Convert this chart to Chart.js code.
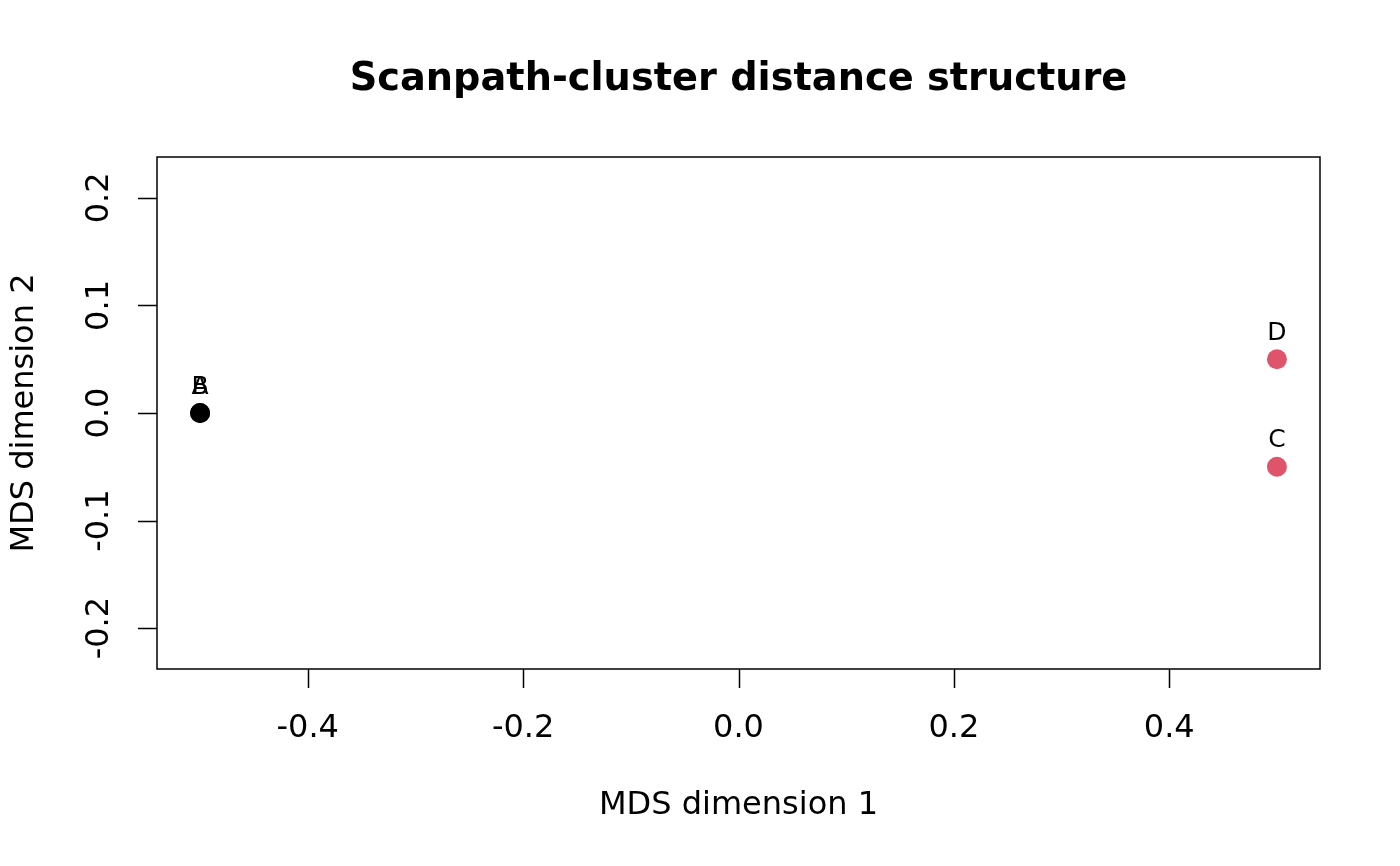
<!DOCTYPE html>
<html>
<head>
<meta charset="utf-8">
<script src="https://cdn.jsdelivr.net/npm/chart.js@4"></script>
<style>
html,body{margin:0;padding:0;background:#fff;}
#wrap{width:1400px;height:866px;}
</style>
</head>
<body>
<div id="wrap"><canvas id="c" width="1400" height="866"></canvas></div>
<script>
const chartTitle = "Scanpath-cluster distance structure";
const xTitle = "MDS dimension 1";
const yTitle = "MDS dimension 2";
const pointLabels = ["A", "B", "C", "D"];
const dim1 = [-0.5, -0.5, 0.5, 0.5];
const dim2 = [0.0, 0.0, -0.05, 0.05];
const clusters = [1, 1, 2, 2];
const clusterColors = {1: "#000000", 2: "#DF536B"};
const xTicks = [-0.4, -0.2, 0.0, 0.2, 0.4];
const yTicks = [-0.2, -0.1, 0.0, 0.1, 0.2];
const xRange = [-0.54, 0.54];
const yRange = [-0.238, 0.238];

const FONT = "'DejaVu Sans', sans-serif";

const rPlot = {
  id: 'rPlot',
  afterDraw(chart) {
    const ctx = chart.ctx;
    const a = chart.chartArea;
    const xs = chart.scales.x, ys = chart.scales.y;
    ctx.save();
    ctx.strokeStyle = '#000';
    ctx.fillStyle = '#000';
    ctx.lineWidth = 1.5;
    // box
    ctx.strokeRect(a.left, a.top, a.right - a.left, a.bottom - a.top);
    // x axis ticks
    ctx.font = '32px ' + FONT;
    ctx.textAlign = 'center';
    ctx.textBaseline = 'middle';
    ctx.beginPath();
    xTicks.forEach(v => {
      const px = Math.round(xs.getPixelForValue(v)) + 0.5;
      ctx.moveTo(px, a.bottom);
      ctx.lineTo(px, a.bottom + 19);
    });
    ctx.stroke();
    xTicks.forEach(v => {
      const px = xs.getPixelForValue(v);
      ctx.fillText(v.toFixed(1), px, a.bottom + 60);
    });
    // y axis ticks
    ctx.beginPath();
    yTicks.forEach(v => {
      const py = Math.round(ys.getPixelForValue(v)) + 0.5;
      ctx.moveTo(a.left, py);
      ctx.lineTo(a.left - 19, py);
    });
    ctx.stroke();
    yTicks.forEach(v => {
      const py = ys.getPixelForValue(v);
      ctx.save();
      ctx.translate(a.left - 57, py);
      ctx.rotate(-Math.PI / 2);
      ctx.fillText(v.toFixed(1), 0, 0);
      ctx.restore();
    });
    // axis titles
    ctx.font = '32px ' + FONT;
    ctx.fillText(xTitle, (a.left + a.right) / 2, a.bottom + 137);
    ctx.save();
    ctx.translate(a.left - 132, (a.top + a.bottom) / 2);
    ctx.rotate(-Math.PI / 2);
    ctx.fillText(yTitle, 0, 0);
    ctx.restore();
    // main title
    ctx.font = 'bold 38.3px ' + FONT;
    ctx.fillText(chartTitle, (a.left + a.right) / 2, 80);
    // point labels
    ctx.font = '25px ' + FONT;
    const meta = chart.getDatasetMeta(0);
    meta.data.forEach((el, i) => {
      ctx.fillText(pointLabels[i], el.x, el.y - 26);
    });
    ctx.restore();
  }
};

new Chart(document.getElementById('c'), {
  type: 'scatter',
  data: {
    datasets: [{
      data: dim1.map((x, i) => ({x: x, y: dim2[i]})),
      backgroundColor: clusters.map(c => clusterColors[c]),
      borderWidth: 0,
      pointRadius: 10,
      pointHoverRadius: 10
    }]
  },
  options: {
    responsive: false,
    animation: false,
    devicePixelRatio: 1,
    layout: {padding: {left: 157, right: 80, top: 157, bottom: 197}},
    plugins: {legend: {display: false}, tooltip: {enabled: false}, title: {display: false}},
    scales: {
      x: {type: 'linear', min: xRange[0], max: xRange[1], display: false},
      y: {type: 'linear', min: yRange[0], max: yRange[1], display: false}
    }
  },
  plugins: [rPlot]
});
</script>
</body>
</html>
